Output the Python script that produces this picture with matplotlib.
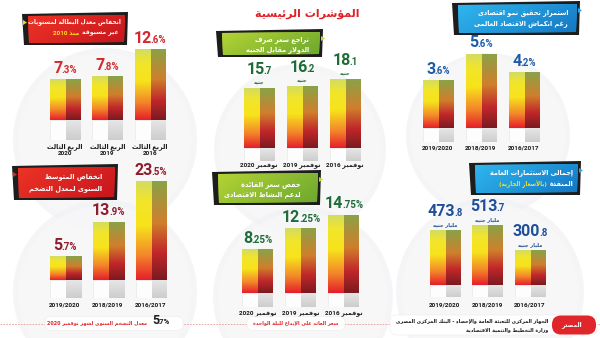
import re
import numpy as np
import matplotlib
matplotlib.use("Agg")
import matplotlib.pyplot as plt
from matplotlib.colors import LinearSegmentedColormap
from matplotlib.patches import Polygon, FancyBboxPatch, Circle
from matplotlib.offsetbox import TextArea, HPacker, AnnotationBbox

W, H = 600, 338

# ---------------- data ----------------
title_main = "المؤشرات الرئيسية"

unemp_title = ["انخفاض معدل البطالة لمستويات", "غير مسبوقة", "منذ 2010"]
unemp_labels = ["الربع الثالث\n2016", "الربع الثالث\n2019", "الربع الثالث\n2020"]
unemp_values = [12.6, 7.8, 7.3]

fx_title = ["تراجع سعر صرف", "الدولار مقابل الجنيه"]
fx_labels = ["نوفمبر 2016", "نوفمبر 2019", "نوفمبر 2020"]
fx_values = [18.1, 16.2, 15.7]
fx_unit = "جنيه"

gdp_title = ["استمرار تحقيق نمو اقتصادى", "رغم انكماش الاقتصاد العالمى"]
gdp_labels = ["2016/2017", "2018/2019", "2019/2020"]
gdp_values = [4.2, 5.6, 3.6]

infl_title = ["انخفاض المتوسط", "السنوى لمعدل التضخم"]
infl_labels = ["2016/2017", "2018/2019", "2019/2020"]
infl_values = [23.5, 13.9, 5.7]
infl_note = "معدل التضخم السنوى لشهر نوفمبر 2020"
infl_nov2020 = 5.7

rate_title = ["خفض سعر الفائدة", "لدعم النشاط الاقتصادى"]
rate_labels = ["نوفمبر 2016", "نوفمبر 2019", "نوفمبر 2020"]
rate_values = [14.75, 12.25, 8.25]
rate_note = "سعر العائد على الإيداع لليلة الواحدة"

inv_title = ["إجمالى الاستثمارات العامة", "المنفذة", "(بالأسعار الجارية)"]
inv_labels = ["2016/2017", "2018/2019", "2019/2020"]
inv_values = [300.8, 513.7, 473.8]
inv_unit = "مليار جنيه"

source_label = "المصدر"
source_lines = ["الجهاز المركزى للتعبئة العامة والإحصاء - البنك المركزى المصرى",
                "وزارة التخطيط والتنمية الاقتصادية"]

# ---------------- minimal Arabic shaping ----------------
_LET = [('ء', 0xFE80, 1), ('آ', 0xFE81, 2), ('أ', 0xFE83, 2), ('ؤ', 0xFE85, 2),
        ('إ', 0xFE87, 2), ('ئ', 0xFE89, 4), ('ا', 0xFE8D, 2), ('ب', 0xFE8F, 4),
        ('ة', 0xFE93, 2), ('ت', 0xFE95, 4), ('ث', 0xFE99, 4), ('ج', 0xFE9D, 4),
        ('ح', 0xFEA1, 4), ('خ', 0xFEA5, 4), ('د', 0xFEA9, 2), ('ذ', 0xFEAB, 2),
        ('ر', 0xFEAD, 2), ('ز', 0xFEAF, 2), ('س', 0xFEB1, 4), ('ش', 0xFEB5, 4),
        ('ص', 0xFEB9, 4), ('ض', 0xFEBD, 4), ('ط', 0xFEC1, 4), ('ظ', 0xFEC5, 4),
        ('ع', 0xFEC9, 4), ('غ', 0xFECD, 4), ('ف', 0xFED1, 4), ('ق', 0xFED5, 4),
        ('ك', 0xFED9, 4), ('ل', 0xFEDD, 4), ('م', 0xFEE1, 4), ('ن', 0xFEE5, 4),
        ('ه', 0xFEE9, 4), ('و', 0xFEED, 2), ('ى', 0xFEEF, 2), ('ي', 0xFEF1, 4)]
FORMS = {c: [chr(s + k) for k in range(n)] for c, s, n in _LET}
LAMALEF = {'آ': 0xFEF5, 'أ': 0xFEF7, 'إ': 0xFEF9, 'ا': 0xFEFB}


def _dual(c):
    return c in FORMS and len(FORMS[c]) == 4


def _joins(c):
    return c in FORMS and len(FORMS[c]) >= 2


def shape(s):
    out, i, n = [], 0, len(s)
    while i < n:
        c = s[i]
        if c not in FORMS:
            out.append(c)
            i += 1
            continue
        jp = i > 0 and _dual(s[i - 1])
        if c == 'ل' and i + 1 < n and s[i + 1] in LAMALEF:
            b = LAMALEF[s[i + 1]]
            out.append(chr(b + 1) if jp else chr(b))
            i += 2
            continue
        jn = _dual(c) and i + 1 < n and _joins(s[i + 1])
        f = FORMS[c]
        if jp and jn:
            ch = f[3]
        elif jp:
            ch = f[1] if len(f) > 1 else f[0]
        elif jn:
            ch = f[2]
        else:
            ch = f[0]
        out.append(ch)
        i += 1
    return ''.join(out)


def ar(s):
    res = []
    for ln in s.split('\n'):
        rev = shape(ln)[::-1].translate(str.maketrans('()', ')('))
        res.append(re.sub(r'[0-9A-Za-z%./]+', lambda m: m.group(0)[::-1], rev))
    return '\n'.join(res)


# ---------------- figure ----------------
plt.rcParams['font.family'] = ['DejaVu Sans']
NUMF = ['Roboto', 'DejaVu Sans']

fig = plt.figure(figsize=(6, 3.38), dpi=100)
fig.patch.set_facecolor('white')

bg = fig.add_axes([0, 0, 1, 1], zorder=0)
bg.set_xlim(0, W)
bg.set_ylim(H, 0)
bg.axis('off')

top = fig.add_axes([0, 0, 1, 1], zorder=6)
top.set_xlim(0, W)
top.set_ylim(H, 0)
top.axis('off')

# soft background arches
for cx, cy, r in [(105, 140, 92), (300, 150, 86), (488, 135, 82),
                  (105, 292, 92), (303, 297, 90), (490, 292, 94)]:
    bg.add_patch(Circle((cx, cy), r, facecolor='#f1f2f4', edgecolor='none', alpha=0.7))
    bg.add_patch(Circle((cx, cy), r * 0.94, facecolor='#f8f8f9', edgecolor='none', alpha=0.8))

# dotted red guide line at the bottom
bg.plot([0, W], [324, 324], color='#e79a9a', lw=0.6, ls=(0, (2, 1.5)))

front_cmap = LinearSegmentedColormap.from_list(
    'front', [(0, '#e61e2a'), (0.25, '#f3862a'), (0.55, '#f7e31b'), (0.8, '#f2e52a'), (1, '#d3dc62')])
side_cmap = LinearSegmentedColormap.from_list(
    'side', [(0, '#7a1a20'), (0.28, '#c1272a'), (0.58, '#d07f2c'), (1, '#8aa247')])
ped_cmap = LinearSegmentedColormap.from_list('ped', ['#cdcdcd', '#e6e6e6'])
grad = np.linspace(0, 1, 256).reshape(-1, 1)


def value_box(text_big, text_small, color, fb, fs):
    big = TextArea(text_big, textprops=dict(color=color, fontsize=fb, fontweight='bold', family=NUMF))
    small = TextArea(text_small, textprops=dict(color=color, fontsize=fs, fontweight='bold', family=NUMF))
    return HPacker(children=[big, small], align='baseline', pad=0, sep=-0.8)


def make_panel(vals, labs, c0, c2, zero, scale, ped, color, suffix, unit, pad,
               fb=11.5, fs=7):
    sp = (c2 - c0) / 2.0
    axl, axr = c0 - 0.6 * sp, c0 + 2.6 * sp
    axt, axb = zero - 105, zero + ped
    ax = fig.add_axes([axl / W, 1 - axb / H, (axr - axl) / W, (axb - axt) / H], zorder=3)
    ax.patch.set_visible(False)
    n = len(vals)
    xs = np.array([n - 1 - i for i in range(n)], dtype=float)
    fw, sw = 16 / sp, 15 / sp
    left = xs - (fw + sw) / 2
    vals = np.asarray(vals, dtype=float)
    pedh = ped / scale
    fb_ = ax.bar(left, vals, width=fw, align='edge', color='#f2c020', zorder=1)
    sb_ = ax.bar(left + fw, vals, width=sw, align='edge', color='#b54a2a', zorder=1)
    ax.bar(left, -pedh, width=fw, align='edge', color='#fdfdfd',
           edgecolor='#e4e4e4', lw=0.4, zorder=1)
    pb_ = ax.bar(left + fw, -pedh, width=sw, align='edge', color='#d5d5d5', zorder=1)
    for bars, cmap in [(fb_, front_cmap), (sb_, side_cmap), (pb_, ped_cmap)]:
        for r in bars:
            x0, w, y0, h = r.get_x(), r.get_width(), r.get_y(), r.get_height()
            im = ax.imshow(grad, cmap=cmap, extent=(x0, x0 + w, min(y0, y0 + h), max(y0, y0 + h)),
                           origin='lower', aspect='auto', zorder=2, interpolation='bilinear')
            im.set_clip_path(r)
    ax.set_xlim(-0.6, 2.6)
    ax.set_ylim(-pedh, 105 / scale)
    ax.set_xticks(xs)
    ax.set_xticklabels([ar(l) for l in labs], fontsize=4.6, fontweight='bold',
                       family=NUMF, color='#1a1a1a', linespacing=1.3)
    ax.tick_params(axis='x', length=0, pad=pad)
    ax.set_yticks([])
    for s in ax.spines.values():
        s.set_visible(False)
    for x, v in zip(xs, vals):
        ip, dp = f"{v:g}".split('.')
        off = 2.5
        if unit:
            ax.annotate(ar(unit), (x, v), xytext=(0, 2), textcoords='offset points',
                        ha='center', va='bottom', fontsize=3.6, fontweight='bold',
                        color=color, annotation_clip=False)
            off = 8.0
        ab = AnnotationBbox(value_box(ip, '.' + dp + suffix, color, fb, fs), (x, v),
                            xybox=(0, off), boxcoords='offset points', box_alignment=(0.5, 0),
                            frameon=False, pad=0, annotation_clip=False)
        ax.add_artist(ab)
    return ax


make_panel(unemp_values, unemp_labels, 65, 150, 120, 5.6, 20, '#d6262c', '%', None, 2.0)
make_panel(fx_values, fx_labels, 259, 345, 148, 3.8, 13, '#1e6b36', '', fx_unit, 1)
make_panel(gdp_values, gdp_labels, 438, 524, 128, 13.3, 14, '#1c5ca8', '%', None, 2.5)
make_panel(infl_values, infl_labels, 65, 151, 280, 4.2, 18, '#8e1c2c', '%', None, 3)
make_panel(rate_values, rate_labels, 258, 344, 293, 5.3, 14, '#1f6b3a', '%', None, 2.5)
make_panel(inv_values, inv_labels, 445, 530, 285, 0.116, 12, '#1f4f99', '', inv_unit, 4)


# ---------------- banners ----------------
def banner(x0, y0, x1, y1, c_a, c_b, tri, tri_side):
    top.add_patch(Polygon([(x0 - 6, y0 - 2), (x1 + 3, y0 - 4), (x1 + 2, y1 + 3), (x0 - 4, y1 + 3)],
                          closed=True, facecolor='#1d1d1d', edgecolor='none', zorder=1))
    face = Polygon([(x0, y0), (x1, y0 - 1), (x1 - 1, y1), (x0 + 1, y1 + 1)],
                   closed=True, facecolor=c_a, edgecolor='none', zorder=2)
    top.add_patch(face)
    cm = LinearSegmentedColormap.from_list('b', [c_a, c_b])
    g = np.linspace(0, 1, 64).reshape(1, -1) + np.linspace(0, 0.4, 16).reshape(-1, 1)
    im = top.imshow(g, cmap=cm, extent=(x0, x1, y1 + 1, y0 - 1), aspect='auto',
                    zorder=2, interpolation='bilinear', vmin=0, vmax=1.4)
    im.set_clip_path(face)
    if tri_side == 'left':
        tx = x0 - 5
        top.add_patch(Polygon([(tx, y0 + 4), (tx + 4, y0 + 6.5), (tx, y0 + 9)], closed=True,
                              facecolor=tri, edgecolor='none', zorder=3))
    else:
        tx = x1 + 1
        top.add_patch(Polygon([(tx, y0 + 3), (tx + 4, y0 + 5.5), (tx, y0 + 8)], closed=True,
                              facecolor=tri, edgecolor='none', zorder=3))


RED = ('#ec3326', '#c8161d')
GREEN = ('#b3d334', '#6da82f')
BLUE = ('#2fb6ee', '#1478c4')

banner(28, 16, 125, 42, RED[0], RED[1], '#f5d31c', 'left')
banner(222, 33, 320, 54, GREEN[0], GREEN[1], '#c9d82a', 'right')
banner(458, 5, 577, 32, BLUE[0], BLUE[1], '#2aa9e6', 'right')
banner(18, 168, 115, 197, RED[0], RED[1], '#e2261f', 'left')
banner(218, 174, 318, 202, GREEN[0], GREEN[1], '#c9d82a', 'right')
banner(475, 165, 578, 192, BLUE[0], BLUE[1], '#2aa9e6', 'right')

top.set_xlim(0, W)
top.set_ylim(H, 0)

TFS = 4.7


def tkw(fs=TFS, ha='right'):
    return dict(color='white', fontsize=fs, fontweight='bold', ha=ha, va='center', zorder=5)


top.text(121, 22, ar(unemp_title[0]), **tkw(4.25))
ab = AnnotationBbox(HPacker(children=[
    TextArea(ar(unemp_title[2]), textprops=dict(color='#ffe01a', fontsize=4.6, fontweight='bold', family=NUMF)),
    TextArea(ar(unemp_title[1]), textprops=dict(color='white', fontsize=4.4, fontweight='bold'))],
    align='baseline', pad=0, sep=2.5), (119, 33.5), xycoords='data', box_alignment=(1, 0.5),
    frameon=False, pad=0)
ab.set_zorder(5)
top.add_artist(ab)

top.text(309, 39.5, ar(fx_title[0]), **tkw(4.7))
top.text(309, 49.5, ar(fx_title[1]), **tkw(4.7))
top.text(568, 13, ar(gdp_title[0]), **tkw())
top.text(568, 24, ar(gdp_title[1]), **tkw())
top.text(102, 177, ar(infl_title[0]), **tkw(4.8))
top.text(102, 188.5, ar(infl_title[1]), **tkw(4.8))
top.text(301, 184.5, ar(rate_title[0]), **tkw(4.8))
top.text(301, 194.5, ar(rate_title[1]), **tkw(4.8))
top.text(573, 173, ar(inv_title[0]), **tkw())
ab = AnnotationBbox(HPacker(children=[
    TextArea(ar(inv_title[2]), textprops=dict(color='#ffe01a', fontsize=TFS - 0.7, fontweight='bold')),
    TextArea(ar(inv_title[1]), textprops=dict(color='white', fontsize=TFS, fontweight='bold'))],
    align='baseline', pad=0, sep=2), (573, 184), xycoords='data', box_alignment=(1, 0.5),
    frameon=False, pad=0)
ab.set_zorder(5)
top.add_artist(ab)

# main title
top.text(307, 14, ar(title_main), color='#e21f26', fontsize=8, fontweight='bold',
         ha='center', va='center')

# ---------------- footers ----------------
pill = dict(boxstyle='round,pad=0,rounding_size=6', facecolor='white', edgecolor='#ececec', lw=0.4)
top.add_patch(FancyBboxPatch((45, 316.5), 138, 14, **pill))
top.text(147, 323.5, ar(infl_note), color='#e2262b', fontsize=3.5, fontweight='bold',
         ha='right', va='center')
ip, dp = f"{infl_nov2020:g}".split('.')
ab = AnnotationBbox(value_box(ip, '.' + dp + '%', '#1f1f1f', 9, 5.5), (152, 327.5),
                    xycoords='data', box_alignment=(0, 0), frameon=False, pad=0)
top.add_artist(ab)

top.add_patch(FancyBboxPatch((247, 316.5), 98, 14, **pill))
top.text(296, 323.5, ar(rate_note), color='#e2262b', fontsize=3.5, fontweight='bold',
         ha='center', va='center')

top.add_patch(FancyBboxPatch((390, 315), 207, 20, **pill))
top.add_patch(FancyBboxPatch((552, 315.5), 44, 19,
                             boxstyle='round,pad=0,rounding_size=9', facecolor='#e0262a',
                             edgecolor='none'))
top.text(572, 325, ar(source_label), color='white', fontsize=4.2, fontweight='bold',
         ha='center', va='center')
top.text(548, 321, ar(source_lines[0]), color='#1a1a1a', fontsize=3.5, fontweight='bold',
         ha='right', va='center')
top.text(548, 330, ar(source_lines[1]), color='#1a1a1a', fontsize=3.5, fontweight='bold',
         ha='right', va='center')

fig.savefig('out.png', dpi=100, facecolor='white')
